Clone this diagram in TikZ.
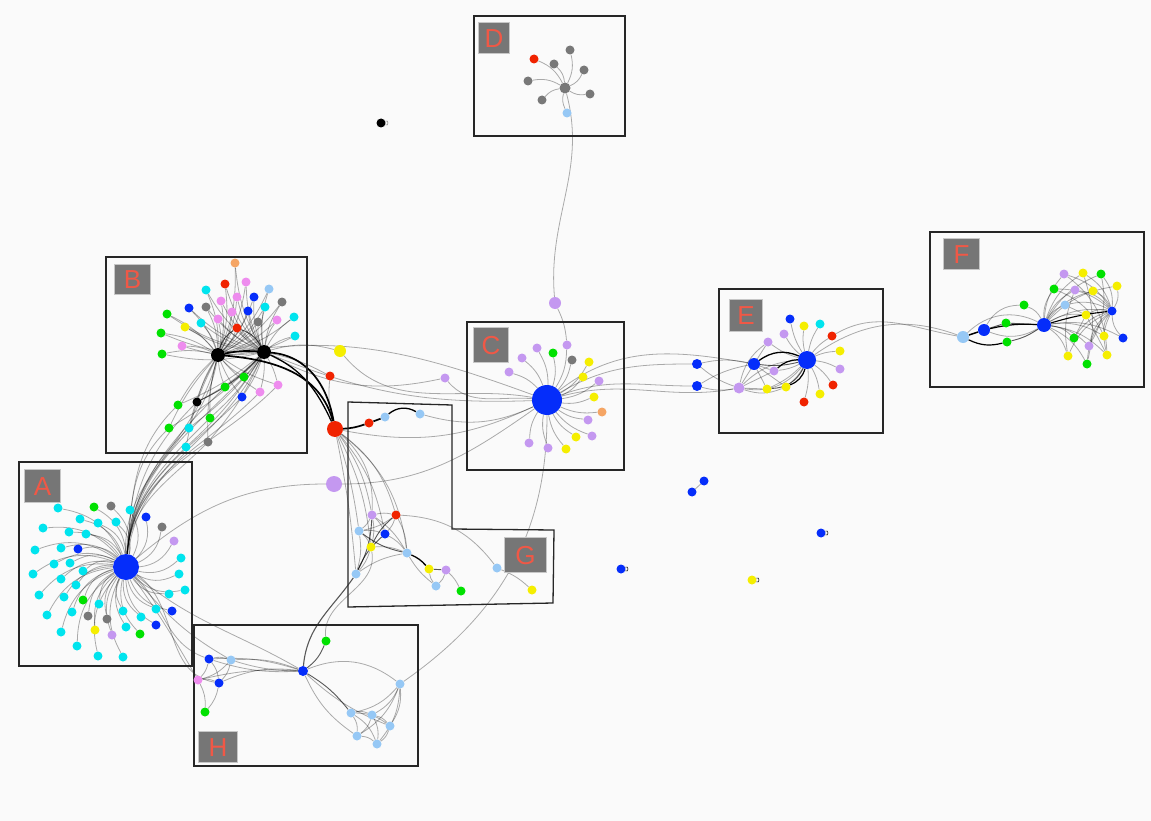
\documentclass[tikz,border=0pt]{standalone}
\usepackage{fontspec}
\setmainfont{Liberation Sans}
\pgfdeclarelayer{bgl}
\pgfdeclarelayer{edg}
\pgfdeclarelayer{bxs}
\pgfsetlayers{bgl,edg,bxs,main}
\definecolor{cyn}{RGB}{0,228,238}
\definecolor{blu}{RGB}{5,45,250}
\definecolor{grn}{RGB}{0,225,0}
\definecolor{gry}{RGB}{120,120,120}
\definecolor{lav}{RGB}{196,152,240}
\definecolor{pnk}{RGB}{238,140,238}
\definecolor{yel}{RGB}{245,238,0}
\definecolor{rd}{RGB}{240,35,0}
\definecolor{lbl}{RGB}{150,200,245}
\definecolor{org}{RGB}{245,165,100}
\definecolor{blk}{RGB}{0,0,0}
\definecolor{labbg}{RGB}{118,118,118}
\definecolor{labfg}{RGB}{240,88,70}
\definecolor{pagebg}{RGB}{250,250,250}
\tikzset{
  nd/.style={circle, inner sep=0pt, minimum size=9pt, draw=none},
  ed/.style={draw=black, draw opacity=0.32, line width=0.8pt},
  dk/.style={draw=black, draw opacity=0.65, line width=0.9pt},
  bk/.style={draw=black, line width=1.7pt},
  bx/.style={draw=black!85, line width=1.3pt},
  lab/.style={fill=labbg, draw=black!22, line width=1.2pt, text=labfg, inner sep=0pt,
     font=\fontsize{26}{26}\selectfont, anchor=north west},
  lp/.style={draw=black, line width=0.5pt, loop, out=25, in=-25, min distance=4pt},
}
\begin{document}
\begin{tikzpicture}[x=1pt,y=1pt]
\path[use as bounding box] (0,0) rectangle (1151,-821);
\begin{pgfonlayer}{bgl}
\fill[pagebg] (0,0) rectangle (1151,-821);
\end{pgfonlayer}

% ---------- nodes: A ----------
\node[nd, fill=blu, minimum size=26pt] (aH) at (126,-567) {};
\foreach \x/\y/\c [count=\i] in {58/508/cyn,94/507/grn,111/506/gry,130/510/cyn,146/517/blu,80/519/cyn,98/523/cyn,116/522/cyn,162/527/gry,43/528/cyn,69/532/cyn,86/534/cyn,174/541/lav,35/550/cyn,61/548/cyn,78/549/blu,181/558/cyn,54/564/cyn,70/563/cyn,83/571/cyn,33/574/cyn,61/579/cyn,179/574/cyn,76/585/cyn,39/595/cyn,64/597/cyn,83/600/grn,185/590/cyn,169/594/cyn,99/604/cyn,47/615/cyn,72/612/cyn,123/611/cyn,156/609/cyn,172/611/blu,88/616/gry,107/619/gry,141/617/cyn,156/625/blu,95/630/yel,112/635/lav,126/627/cyn,140/634/grn,61/632/cyn,77/646/cyn,98/656/cyn,123/657/cyn}
  \node[nd, fill=\c] (a\i) at (\x,-\y) {};

% ---------- nodes: B ----------
\node[nd, fill=blk, minimum size=14pt] (hB1) at (218,-355) {};
\node[nd, fill=blk, minimum size=14pt] (hB2) at (264,-352) {};
\foreach \x/\y/\c [count=\i] in {235/263/org,225/284/rd,246/282/pnk,269/289/lbl,206/290/cyn,254/297/blu,221/301/pnk,237/297/pnk,282/302/gry,189/308/blu,206/307/gry,248/311/blu,265/307/cyn,232/312/pnk,167/314/grn,294/317/cyn,218/319/pnk,201/323/cyn,277/320/pnk,258/322/gry,185/327/yel,237/328/rd,161/333/grn,295/336/cyn,182/346/pnk,162/354/grn,244/377/grn,225/387/grn,278/385/pnk,260/392/pnk,242/397/blu,197/402/blk,178/405/grn,210/418/grn,169/428/grn,189/428/cyn,208/442/gry,186/447/cyn}
  \node[nd, fill=\c] (b\i) at (\x,-\y) {};

% ---------- middle ----------
\node[nd, fill=yel, minimum size=12pt] (yM) at (340,-351) {};
\node[nd, fill=rd] (rM) at (330,-376) {};
\node[nd, fill=lav, minimum size=9pt] (lM) at (445,-378) {};
\node[nd, fill=rd, minimum size=16pt] (bigR) at (335,-429) {};
\node[nd, fill=lav, minimum size=16pt] (bigL) at (334,-484) {};
\node[nd, fill=lav, minimum size=12pt] (lC) at (555,-303) {};

% ---------- C ----------
\node[nd, fill=blu, minimum size=30pt] (cH) at (547,-400) {};
\foreach \x/\y/\c [count=\i] in {567/345/lav,537/348/lav,553/353/grn,572/360/gry,589/362/yel,522/358/lav,509/372/lav,583/377/yel,599/381/lav,594/397/yel,602/412/org,588/420/lav,576/437/yel,592/436/lav,529/443/lav,548/448/lav,566/449/yel}
  \node[nd, fill=\c] (c\i) at (\x,-\y) {};

% ---------- D ----------
\node[nd, fill=gry, minimum size=11pt] (dH) at (565,-88) {};
\foreach \x/\y/\c [count=\i] in {534/59/rd,570/50/gry,554/64/gry,584/70/gry,528/81/gry,590/94/gry,542/100/gry,567/113/lbl}
  \node[nd, fill=\c] (d\i) at (\x,-\y) {};

% ---------- E ----------
\node[nd, fill=blu, minimum size=18pt] (eH) at (807,-360) {};
\node[nd, fill=blu, minimum size=12pt] (eB) at (754,-364) {};
\node[nd, fill=lav, minimum size=11pt] (eL) at (739,-388) {};
\node[nd, fill=blu, minimum size=10pt] (eX1) at (697,-364) {};
\node[nd, fill=blu, minimum size=10pt] (eX2) at (697,-386) {};
\foreach \x/\y/\c [count=\i] in {790/319/blu,804/326/yel,820/324/cyn,784/334/lav,768/342/lav,832/336/rd,840/351/yel,774/371/lav,840/369/lav,767/389/yel,786/387/yel,833/385/rd,820/394/yel,804/402/rd}
  \node[nd, fill=\c] (ea\i) at (\x,-\y) {};

% ---------- F ----------
\node[nd, fill=lbl, minimum size=12pt] (fL) at (963,-337) {};
\node[nd, fill=blu, minimum size=12pt] (fB) at (984,-330) {};
\node[nd, fill=blu, minimum size=14pt] (fH) at (1044,-325) {};
\node[nd, fill=grn] (fg1) at (1024,-305) {};
\node[nd, fill=grn] (fg2) at (1006,-323) {};
\node[nd, fill=grn] (fg3) at (1007,-342) {};
\foreach \x/\y/\c [count=\i] in {1064/274/lav,1083/273/yel,1101/274/grn,1054/289/grn,1075/290/lav,1093/291/yel,1117/286/yel,1065/305/lbl,1086/315/yel,1112/311/blu,1123/338/blu,1074/338/grn,1104/336/yel,1089/346/lav,1068/356/yel,1107/355/yel,1087/364/grn}
  \node[nd, fill=\c] (fa\i) at (\x,-\y) {};

% ---------- G ----------
\node[nd, fill=rd] (gr) at (369,-423) {};
\node[nd, fill=lbl] (gb1) at (385,-417) {};
\node[nd, fill=lbl] (gb2) at (420,-414) {};
\foreach \x/\y/\c [count=\i] in {372/515/lav,396/515/rd,359/531/lbl,385/534/blu,371/547/yel,407/553/lbl,429/569/yel,446/570/lav,356/574/lbl,436/586/lbl,461/591/grn,497/568/lbl,532/590/yel}
  \node[nd, fill=\c] (g\i) at (\x,-\y) {};

% ---------- H ----------
\node[nd, fill=blu, minimum size=10pt] (hH) at (303,-671) {};
\foreach \x/\y/\c [count=\i] in {326/641/grn,209/659/blu,231/660/lbl,198/680/pnk,219/683/blu,205/712/grn,400/684/lbl,351/713/lbl,372/715/lbl,390/726/lbl,357/736/lbl,377/744/lbl}
  \node[nd, fill=\c] (h\i) at (\x,-\y) {};

% ---------- isolated ----------
\node[nd, fill=blk] (k) at (381,-123) {};
\node[nd, fill=blu] (p1) at (704,-481) {};
\node[nd, fill=blu] (p2) at (692,-492) {};
\node[nd, fill=blu] (s1) at (621,-569) {};
\node[nd, fill=blu] (s2) at (821,-533) {};
\node[nd, fill=yel] (s3) at (752,-580) {};

% ---------- labels ----------
\node[lab, minimum width=36pt, minimum height=33pt] (LA) at (24,-469) {A};
\node[lab, minimum width=36pt, minimum height=30pt] (LB) at (114,-264) {B};
\node[lab, minimum width=35pt, minimum height=35pt] (LC) at (473,-327) {C};
\node[lab, minimum width=31pt, minimum height=31pt] (LD) at (478,-22) {D};
\node[lab, minimum width=33pt, minimum height=32pt] (LE) at (729,-299) {E};
\node[lab, minimum width=36pt, minimum height=31pt] (LF) at (943,-238) {F};
\node[lab, minimum width=42pt, minimum height=35pt] (LG) at (504,-537) {G};
\node[lab, minimum width=39pt, minimum height=31pt] (LH) at (198,-731) {H};

% ---------- boxes ----------
\begin{pgfonlayer}{bxs}
\draw[bx] (19,-462) rectangle (192,-666);
\draw[bx] (106,-257) rectangle (307,-453);
\draw[bx] (467,-322) rectangle (624,-470);
\draw[bx] (474,-16) rectangle (625,-136);
\draw[bx] (719,-289) rectangle (883,-433);
\draw[bx] (930,-232) rectangle (1144,-387);
\draw[bx] (194,-625) rectangle (418,-766);
\draw[bx] (348,-402) -- (452,-405) -- (452,-529) -- (554,-530) -- (553,-603) -- (348,-607) -- cycle;
\end{pgfonlayer}

% ---------- edges ----------
\begin{pgfonlayer}{edg}
% A
\foreach \i in {1,...,47} \draw[ed] (aH) to[bend right=28] (a\i);
% A to B bundle
\foreach \i in {27,...,38} {
  \draw[ed] (aH) to[out=85,in=-135] (b\i);
  \draw[ed] (b\i) to[bend left=8] (hB1);
  \draw[ed] (b\i) to[bend right=8] (hB2);
}
\draw[ed] (aH) to[out=88,in=-105] (hB1);
\draw[ed] (aH) to[out=82,in=-115] (hB2);
\draw[ed] (aH) to[out=92,in=-100] (hB1);
% B
\foreach \i in {1,...,26} {
  \draw[ed] (hB1) to[bend right=12] (b\i);
  \draw[ed] (hB2) to[bend left=12] (b\i);
}
\draw[bk] (hB1) to[bend left=8] (hB2);
\draw[dk] (hB1) to[bend left=20] (b22);
\draw[dk] (b22) to[bend left=20] (hB2);
\draw[dk] (b32) to[bend right=10] (hB2);
\draw[bk] (hB1) to[out=-5,in=105] (bigR);
\draw[bk] (hB2) to[out=-5,in=100] (bigR);
\draw[bk, line width=1.3pt] (hB2) to[out=-25,in=115] (bigR);
% middle
\draw[ed] (hB2) to[bend left=15] (yM);
\draw[ed] (yM) to[out=-50,in=170] (cH);
\draw[ed] (hB2) to[bend left=8] (rM);
\draw[ed] (rM) to[bend right=10] (bigR);
\draw[ed] (hB2) to[bend right=20] (lM);
\draw[ed] (lM) to[out=-50,in=175] (cH);
\draw[ed] (hB2) to[bend right=12] (cH);
\draw[ed] (hB1) to[out=10,in=160] (cH);
\draw[ed] (bigR) to[bend right=18] (cH);
\draw[ed] (bigL) to[out=0,in=215] (cH);
\draw[ed] (aH) to[out=40,in=180] (bigL);
\draw[ed] (gb2) to[bend right=20] (cH);
\draw[ed] (dH) to[out=-75,in=95] (lC);
\draw[ed] (lC) to[bend left=10] (c1);
% C
\foreach \i in {1,...,17} \draw[ed] (cH) to[bend right=15] (c\i);
% D
\foreach \i in {1,...,8} \draw[ed] (dH) to[bend right=20] (d\i);
% C to E
\draw[ed] (cH) to[out=30,in=180] (eX1);
\draw[ed] (cH) to[out=20,in=180] (eX2);
\draw[ed] (cH) to[out=38,in=170] (eB);
\draw[ed] (cH) to[out=15,in=190] (eL);
\draw[ed] (eX1) to[bend left=12] (eB);
\draw[ed] (eX2) to[bend right=12] (eL);
\draw[ed] (eX1) to[bend right=10] (eL);
\draw[ed] (eX2) to[bend left=10] (eB);
% E
\foreach \i in {1,...,14} \draw[ed] (eH) to[bend left=10] (ea\i);
\draw[bk, line width=1.3pt] (eB) to[bend left=30] (eH);
\draw[dk] (eB) to[bend right=10] (eH);
\draw[bk, line width=1.2pt] (ea11) to[bend right=25] (eH);
\draw[bk, line width=1.2pt] (ea8) to[bend left=20] (eH);
\draw[dk] (ea10) to[bend right=30] (eH);
\draw[ed] (eB) -- (ea10);
\draw[ed] (eB) -- (ea11);
\draw[ed] (eB) -- (ea8);
\draw[ed] (eB) -- (ea5);
\draw[ed] (eL) -- (ea10);
\draw[ed] (eL) to[bend right=20] (ea11);
\draw[ed] (eL) -- (ea8);
\draw[ed] (eL) -- (eB);
\draw[ed] (eL) to[bend left=20] (eH);
\draw[ed] (eL) to[bend right=30] (eH);
\draw[ed] (eL) to[bend left=20] (ea5);
% E to F
\draw[ed] (eH) to[out=35,in=160] (fL);
\draw[ed] (ea6) to[out=30,in=170] (fL);
% F
\draw[bk, line width=1.5pt] (fL) -- (fB);
\draw[bk, line width=1.2pt] (fL) to[bend right=20] (fg3);
\draw[bk, line width=1.2pt] (fB) to[bend left=8] (fH);
\draw[dk] (fg3) to[bend right=10] (fH);
\draw[dk] (fB) -- (fg2);
\draw[dk] (fg2) -- (fH);
\draw[ed] (fB) to[bend left=30] (fg1);
\draw[ed] (fg1) to[bend left=20] (fH);
\draw[ed] (fB) to[bend right=25] (fH);
\draw[ed] (fL) to[bend left=35] (fH);
\foreach \i in {1,...,17} \draw[ed] (fH) to[bend left=18] (fa\i);
\draw[bk, line width=1.1pt] (fH) to[bend left=5] (fa10);
\foreach \i in {1,...,9,11,12,13,14,15,16,17} \draw[ed] (fa10) to[bend right=20] (fa\i);
\draw[ed] (fa4) to[bend left=20] (fa13);
\draw[ed] (fa1) to[bend left=25] (fa16);
\draw[ed] (fa2) to[bend left=15] (fa17);
\draw[ed] (fa5) to[bend right=15] (fa15);
\draw[ed] (fa3) to[bend left=20] (fa14);
\draw[ed] (fa8) -- (fa9);
\draw[ed] (fa9) -- (fa12);
\draw[ed] (fa9) -- (fa16);
% G
\draw[bk] (bigR) to[bend right=8] (gr);
\draw[bk] (gr) -- (gb1);
\draw[bk, line width=1.3pt] (gb1) to[bend left=35] (gb2);
\foreach \t/\b in {g1/12,g2/18,g3/5,g5/10,g6/22,g9/3,g4/14,g1/25}
  \draw[ed] (bigR) to[bend left=\b] (\t);
\foreach \u/\v in {g1/g2,g1/g3,g1/g4,g1/g5,g2/g4,g2/g6,g3/g4,g3/g5,g3/g9,g4/g6,g5/g6,g5/g9,g9/g6,g2/g3,g1/g6}
  \draw[ed] (\u) to[bend left=12] (\v);
\foreach \u/\v in {g2/g5,g3/g6,g4/g9,g9/g1}
  \draw[dk] (\u) to[bend right=12] (\v);
\draw[bk, line width=1.3pt] (g6) to[bend left=12] (g7);
\draw[ed] (g6) to[bend right=10] (g10);
\draw[dk] (g7) -- (g8);
\draw[ed] (g7) to[bend right=15] (g10);
\draw[ed] (g8) to[bend left=15] (g10);
\draw[ed] (g8) to[bend left=10] (g11);
\draw[ed] (g12) to[bend right=25] (g2);
\draw[ed] (g13) to[bend right=10] (g12);
% H
\draw[dk, line width=1.1pt] (hH) to[out=85,in=-125] (g9);
\draw[dk] (hH) to[bend right=15] (h1);
\draw[ed] (h1) to[out=95,in=-80] (g5);
\foreach \i/\b in {2/10,3/12,4/8,5/15} \draw[ed] (hH) to[bend right=\b] (h\i);
\foreach \i/\b in {2/-10,3/-8} \draw[ed] (hH) to[bend right=\b] (h\i);
\foreach \u/\v in {h2/h4,h2/h5,h3/h4,h4/h5,h4/h6,h5/h6,h2/h3,h3/h5}
  \draw[ed] (\u) to[bend left=15] (\v);
\draw[ed] (hH) to[bend left=30] (h7);
\draw[dk] (hH) to[bend left=10] (h8);
\draw[ed] (hH) to[bend right=15] (h11);
\draw[ed] (hH) to[bend right=10] (h10);
\foreach \u/\v in {h7/h8,h7/h9,h7/h10,h7/h12,h8/h9,h8/h10,h8/h11,h9/h10,h9/h11,h9/h12,h10/h12,h11/h12,h8/h12,h7/h11}
  \draw[ed] (\u) to[bend left=18] (\v);
\draw[ed] (h7) to[out=35,in=-90] (cH);
\draw[ed] (aH) to[out=-40,in=150] (hH);
\draw[ed] (aH) to[out=-45,in=160] (h2);
\draw[ed] (aH) to[out=-50,in=150] (h3);
\draw[ed] (aH) to[out=-55,in=120] (h4);
\draw[ed] (aH) to[out=-35,in=170] (h5);
% isolated
\draw[ed] (p1) -- (p2);
\draw[lp] (s1) to (s1);
\draw[lp] (s2) to (s2);
\draw[lp] (s3) to (s3);
\draw[lp, draw=black!50] (k) to (k);
\end{pgfonlayer}
\end{tikzpicture}
\end{document}
